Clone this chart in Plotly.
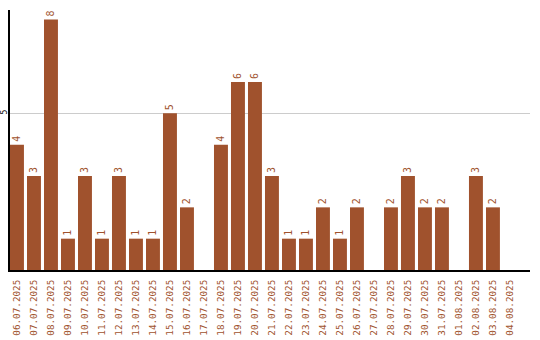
import plotly.graph_objects as go

dates = ["06.07.2025", "07.07.2025", "08.07.2025", "09.07.2025", "10.07.2025",
         "11.07.2025", "12.07.2025", "13.07.2025", "14.07.2025", "15.07.2025",
         "16.07.2025", "17.07.2025", "18.07.2025", "19.07.2025", "20.07.2025",
         "21.07.2025", "22.07.2025", "23.07.2025", "24.07.2025", "25.07.2025",
         "26.07.2025", "27.07.2025", "28.07.2025", "29.07.2025", "30.07.2025",
         "31.07.2025", "01.08.2025", "02.08.2025", "03.08.2025", "04.08.2025"]
values = [4, 3, 8, 1, 3, 1, 3, 1, 1, 5, 2, 0, 4, 6, 6, 3, 1, 1, 2, 1, 2, 0,
          2, 3, 2, 2, 0, 3, 2, 0]

color = "#A0522D"
font = "DejaVu Sans Mono"

fig = go.Figure(go.Bar(
    x=list(range(len(dates))), y=values,
    marker=dict(color=color, line=dict(width=0)),
    text=[str(v) if v else "" for v in values],
    textposition="outside", textangle=-90,
    textfont=dict(family=font, size=10, color=color),
    cliponaxis=False,
))
fig.update_layout(
    width=540, height=340,
    margin=dict(l=10, r=10, t=10, b=70),
    paper_bgcolor="white", plot_bgcolor="white",
    bargap=0.18, showlegend=False,
    xaxis=dict(tickmode="array", tickvals=list(range(len(dates))), ticktext=dates,
               tickangle=-90, range=[-0.41, 30.18], automargin=False,
               tickfont=dict(family=font, size=9.3, color=color),
               ticklabelstandoff=4,
               showline=True, linecolor="black", linewidth=2, showgrid=False,
               ticks="", zeroline=False),
    yaxis=dict(range=[0, 8.3], tickvals=[5], ticktext=["5"], tickangle=-90,
               automargin=False, ticklabelstandoff=-2,
               tickfont=dict(family=font, size=8, color="black"),
               showgrid=True, gridcolor="#cccccc", gridwidth=1,
               showline=True, linecolor="black", linewidth=1.5,
               zeroline=False, ticks=""),
)
fig.write_html("out.html")
